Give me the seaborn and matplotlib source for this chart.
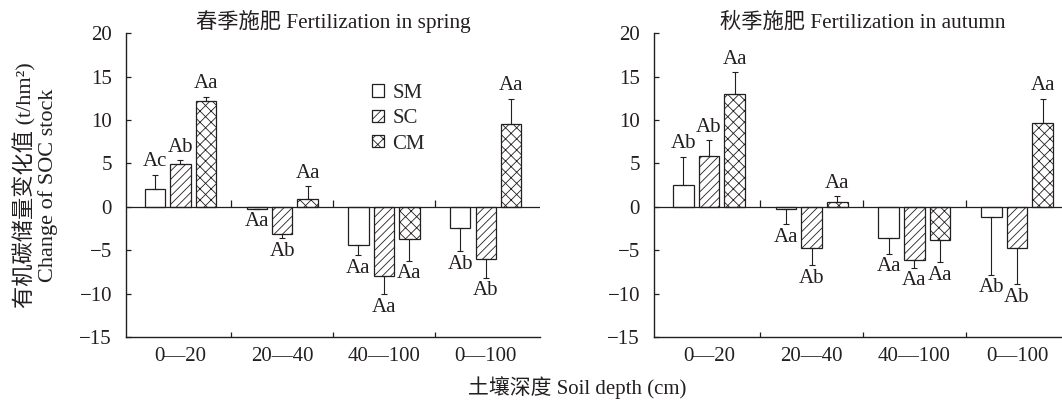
import numpy as np
import pandas as pd
import matplotlib
matplotlib.use('Agg')
import matplotlib.pyplot as plt
import seaborn as sns
from matplotlib.markers import TICKUP

# soil depth classes and treatments
depths = ['0—20', '20—40', '40—100', '0—100']
treatments = ['SM', 'SC', 'CM']

# spring fertilization: change of SOC stock (t/hm2) and one-sided error
spring_sm = [2.0, -0.2, -4.4, -2.5]
spring_sc = [4.9, -3.1, -8.0, -6.0]
spring_cm = [12.2, 0.95, -3.7, 9.5]
spring_sm_err = [1.65, 0.0, 1.2, 2.65]
spring_sc_err = [0.45, 0.55, 2.1, 2.15]
spring_cm_err = [0.5, 1.4, 2.5, 2.9]
spring_sm_lab = ['Ac', 'Aa', 'Aa', 'Ab']
spring_sc_lab = ['Ab', 'Ab', 'Aa', 'Ab']
spring_cm_lab = ['Aa', 'Aa', 'Aa', 'Aa']

# autumn fertilization
autumn_sm = [2.55, -0.2, -3.65, -1.2]
autumn_sc = [5.9, -4.7, -6.1, -4.8]
autumn_cm = [12.95, 0.55, -3.85, 9.65]
autumn_sm_err = [3.2, 1.8, 1.75, 6.6]
autumn_sc_err = [1.75, 2.0, 0.9, 4.15]
autumn_cm_err = [2.55, 0.65, 2.55, 2.8]
autumn_sm_lab = ['Ab', 'Aa', 'Aa', 'Ab']
autumn_sc_lab = ['Ab', 'Ab', 'Aa', 'Ab']
autumn_cm_lab = ['Aa', 'Aa', 'Aa', 'Aa']

ink = '#231f20'
hatches = ['', '////', 'xxx']
fs = 15

sns.set_style('ticks')
plt.rcParams['font.family'] = ['Liberation Serif', 'Noto Sans CJK SC']
plt.rcParams['hatch.linewidth'] = 0.6
plt.rcParams['hatch.color'] = ink
plt.rcParams['axes.unicode_minus'] = True


def draw_panel(ax, means, errs, labels, title, legend=False):
    df = pd.DataFrame({
        'depth': depths * len(treatments),
        'treatment': np.repeat(treatments, len(depths)),
        'value': np.concatenate(means),
    })
    sns.barplot(data=df, x='depth', y='value', hue='treatment', order=depths,
                hue_order=treatments, palette=['white'] * 3, edgecolor=ink,
                linewidth=0.9, width=0.75, gap=0.2, errorbar=None,
                legend=False, ax=ax)
    bars = list(ax.containers)
    for i, cont in enumerate(bars):
        for bar, val, err, lab in zip(cont, means[i], errs[i], labels[i]):
            bar.set_hatch(hatches[i])
            x = bar.get_x() + bar.get_width() / 2
            sign = 1 if val >= 0 else -1
            lo = err if val < 0 else 0
            hi = err if val >= 0 else 0
            ax.errorbar(x, val, yerr=[[lo], [hi]], fmt='none', ecolor=ink,
                        elinewidth=0.8, capsize=2.5, capthick=0.8)
            ax.annotate(lab, (x, val + sign * err), xytext=(0, sign * 9.5),
                        textcoords='offset points', ha='center', va='center',
                        fontsize=fs, color=ink)

    ax.axhline(0, color=ink, lw=0.9, zorder=3)
    bounds = np.arange(len(depths) - 1) + 0.5
    ax.plot(bounds, np.zeros(len(bounds)), ls='none', marker=TICKUP, ms=5,
            mew=0.9, color=ink)

    ax.set_ylim(-15, 20)
    ax.set_yticks(np.arange(-15, 21, 5))
    ax.set_xticks(bounds, minor=True)
    ax.tick_params(axis='x', which='major', length=0, pad=7, labelsize=fs,
                   colors=ink)
    ax.tick_params(axis='x', which='minor', direction='in', length=3.3,
                   width=0.9, color=ink)
    ax.tick_params(axis='y', direction='in', length=3.8, width=0.9, pad=10,
                   labelsize=fs, colors=ink)
    for side in ['top', 'right']:
        ax.spines[side].set_visible(False)
    for side in ['left', 'bottom']:
        ax.spines[side].set_linewidth(1.0)
        ax.spines[side].set_color(ink)
    ax.set_xlabel('')
    ax.set_ylabel('')
    ax.set_title(title, fontsize=fs + 0.3, pad=1, color=ink)

    if legend:
        ax.legend(handles=bars, labels=treatments, loc='upper left',
                  bbox_to_anchor=(0.575, 0.86), frameon=False, fontsize=fs,
                  handlelength=0.55, handleheight=0.55, handletextpad=0.4,
                  labelspacing=0.3, borderaxespad=0)


fig = plt.figure(figsize=(10.62, 4.09), dpi=100)
ax1 = fig.add_axes([0.1186, 0.176, 0.390, 0.743])
ax2 = fig.add_axes([0.6158, 0.176, 0.3936, 0.743])

draw_panel(ax1, [spring_sm, spring_sc, spring_cm],
           [spring_sm_err, spring_sc_err, spring_cm_err],
           [spring_sm_lab, spring_sc_lab, spring_cm_lab],
           '春季施肥 Fertilization in spring', legend=True)
draw_panel(ax2, [autumn_sm, autumn_sc, autumn_cm],
           [autumn_sm_err, autumn_sc_err, autumn_cm_err],
           [autumn_sm_lab, autumn_sc_lab, autumn_cm_lab],
           '秋季施肥 Fertilization in autumn')

ax1.set_ylabel('有机碳储量变化值 (t/hm²)\nChange of SOC stock', fontsize=16,
               color=ink, linespacing=1.05)
ax1.yaxis.set_label_coords(-0.165, 0.5)
fig.text(577 / 1062, 1 - 388 / 409, '土壤深度 Soil depth (cm)', ha='center',
         va='center', fontsize=fs, color=ink)

fig.savefig('out.png', dpi=100)
